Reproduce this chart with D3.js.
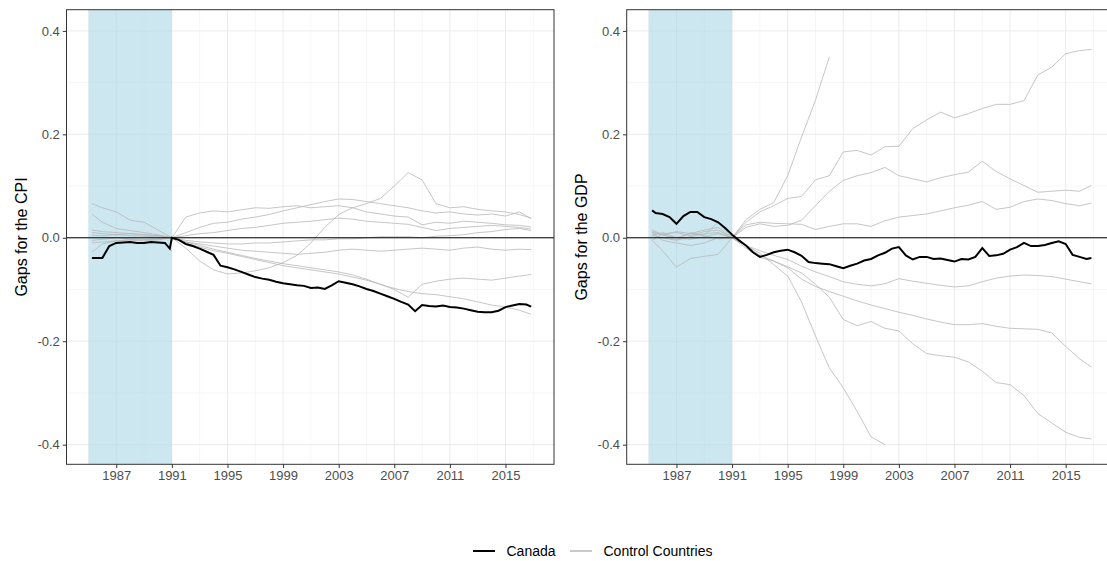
<!DOCTYPE html>
<html>
<head>
<meta charset="utf-8">
<script src="https://cdnjs.cloudflare.com/ajax/libs/d3/7.8.5/d3.min.js"></script>
<style>
    body { margin: 0; background: #fff; font-family: "Liberation Sans", Arial, sans-serif; }
    .axis text { fill: #4d4d4d; font-size: 13px; font-family: "Liberation Sans", Arial, sans-serif; }
    .axis line { stroke: #333; }
    .axis path { display: none; }
    .grid-major { stroke: #ebebeb; stroke-width: 1; }
    .grid-minor { stroke: #f4f4f4; stroke-width: 0.8; }
    .control { fill: none; stroke: #b8b8b8; stroke-width: 0.8; }
    .canada { fill: none; stroke: #000; stroke-width: 2; }
    .axis-title { font-size: 16px; fill: #000; }
    .legend text { font-size: 14px; fill: #000; }
</style>
</head>
<body>
<div id="chart"></div>
<script>

// time grid for the control countries (1985 Q2 .. late 2016)
var years = [1985.25, 1986, 1987, 1988, 1989, 1990, 1991,
    1992, 1993, 1994, 1995, 1996, 1997, 1998, 1999, 2000, 2001,
    2002, 2003, 2004, 2005, 2006, 2007, 2008, 2009, 2010, 2011,
    2012, 2013, 2014, 2015, 2016, 2016.85];

// finer grid for Canada (half years)
var canadaYears = [1985.25, 1985.5, 1986, 1986.5, 1987, 1987.5, 1988, 1988.5, 1989, 1989.5, 1990, 1990.5, 1990.85,
    1991, 1991.5, 1992, 1992.5, 1993, 1993.5, 1994, 1994.5, 1995, 1995.5,
    1996, 1996.5, 1997, 1997.5, 1998, 1998.5, 1999, 1999.5, 2000, 2000.5,
    2001, 2001.5, 2002, 2002.5, 2003, 2003.5, 2004, 2004.5, 2005, 2005.5,
    2006, 2006.5, 2007, 2007.5, 2008, 2008.5, 2009, 2009.5, 2010, 2010.5,
    2011, 2011.5, 2012, 2012.5, 2013, 2013.5, 2014, 2014.5, 2015, 2015.5,
    2016, 2016.5, 2016.85];

var yearTicks = [1987, 1991, 1995, 1999, 2003, 2007, 2011, 2015];
var yearMinor = [1985, 1989, 1993, 1997, 2001, 2005, 2009, 2013, 2017];
var gapTicks = [-0.4, -0.2, 0, 0.2, 0.4];
var gapMinor = [-0.3, -0.1, 0.1, 0.3];
var treatment = [1985, 1991];
var legendLabels = ["Canada", "Control Countries"];

// CPI gaps
var canadaCPI = [-0.039, -0.039, -0.039, -0.016, -0.010, -0.009, -0.008, -0.010, -0.010, -0.008, -0.009, -0.010, -0.021,
    0.000, -0.004, -0.012, -0.016, -0.021, -0.027, -0.033, -0.054, -0.057, -0.061,
    -0.066, -0.071, -0.076, -0.079, -0.081, -0.085, -0.088, -0.090, -0.092, -0.093,
    -0.097, -0.096, -0.099, -0.092, -0.084, -0.087, -0.090, -0.094, -0.099, -0.103,
    -0.108, -0.113, -0.118, -0.124, -0.129, -0.142, -0.130, -0.132, -0.133, -0.131,
    -0.134, -0.135, -0.137, -0.140, -0.143, -0.144, -0.144, -0.141, -0.134, -0.131,
    -0.128, -0.129, -0.133];

var controlsCPI = [
    [0.066, 0.058, 0.050, 0.034, 0.030, 0.015, 0,
     0.040, 0.048, 0.052, 0.050, 0.054, 0.058, 0.057, 0.060, 0.062, 0.058,
     0.060, 0.062, 0.058, 0.050, 0.046, 0.042, 0.040, 0.025, 0.030, 0.028,
     0.032, 0.030, 0.028, 0.025, 0.024, 0.021],
    [0.046, 0.030, 0.018, 0.014, 0.010, 0.006, 0,
     0.010, 0.020, 0.028, 0.030, 0.036, 0.040, 0.045, 0.052, 0.058, 0.064,
     0.070, 0.075, 0.074, 0.070, 0.066, 0.062, 0.058, 0.052, 0.048, 0.050,
     0.046, 0.044, 0.046, 0.042, 0.050, 0.037],
    [0.010, 0.008, 0.006, 0.004, 0.003, 0.002, 0,
     -0.020, -0.045, -0.062, -0.070, -0.068, -0.064, -0.058, -0.048, -0.034, -0.010,
     0.020, 0.045, 0.058, 0.066, 0.076, 0.100, 0.126, 0.112, 0.066, 0.058,
     0.060, 0.055, 0.052, 0.050, 0.045, 0.038],
    [0.005, 0.004, 0.006, 0.008, 0.006, 0.004, 0,
     0.004, 0.008, 0.010, 0.014, 0.018, 0.020, 0.024, 0.028, 0.030, 0.032,
     0.035, 0.038, 0.036, 0.032, 0.030, 0.028, 0.026, 0.020, 0.014, 0.018,
     0.020, 0.022, 0.024, 0.022, 0.020, 0.017],
    [-0.005, -0.003, 0.000, -0.002, -0.003, -0.002, 0,
     -0.005, -0.008, -0.010, -0.012, -0.012, -0.010, -0.010, -0.008, -0.006, -0.004,
     -0.004, -0.002, -0.002, 0.000, 0.002, 0.002, 0.002, 0.000, 0.003, 0.004,
     0.006, 0.010, 0.012, 0.016, 0.018, 0.014],
    [-0.028, -0.012, -0.006, -0.004, -0.006, -0.004, 0,
     -0.008, -0.012, -0.016, -0.020, -0.024, -0.026, -0.028, -0.030, -0.032, -0.030,
     -0.028, -0.024, -0.022, -0.024, -0.026, -0.024, -0.022, -0.020, -0.022, -0.024,
     -0.020, -0.018, -0.022, -0.024, -0.022, -0.023],
    [0.015, 0.012, 0.010, 0.008, 0.006, 0.004, 0,
     -0.010, -0.018, -0.025, -0.030, -0.036, -0.042, -0.048, -0.054, -0.058, -0.062,
     -0.066, -0.070, -0.076, -0.082, -0.090, -0.098, -0.104, -0.108, -0.110, -0.114,
     -0.118, -0.124, -0.130, -0.134, -0.140, -0.148],
    [-0.010, -0.008, -0.006, -0.004, -0.004, -0.002, 0,
     -0.008, -0.015, -0.022, -0.028, -0.034, -0.040, -0.045, -0.050, -0.054, -0.058,
     -0.062, -0.066, -0.072, -0.080, -0.090, -0.100, -0.115, -0.090, -0.084, -0.080,
     -0.078, -0.080, -0.082, -0.078, -0.074, -0.071]
];

// GDP gaps
var canadaGDP = [0.053, 0.048, 0.046, 0.040, 0.027, 0.042, 0.050, 0.050, 0.040, 0.036, 0.030, 0.019, 0.010,
    0.006, -0.005, -0.015, -0.028, -0.037, -0.033, -0.028, -0.025, -0.023, -0.028,
    -0.035, -0.047, -0.049, -0.050, -0.051, -0.055, -0.059, -0.054, -0.050, -0.044,
    -0.041, -0.034, -0.029, -0.021, -0.018, -0.034, -0.042, -0.037, -0.037, -0.041,
    -0.040, -0.043, -0.046, -0.041, -0.042, -0.037, -0.020, -0.035, -0.034, -0.031,
    -0.023, -0.018, -0.010, -0.016, -0.016, -0.014, -0.010, -0.007, -0.012, -0.033,
    -0.037, -0.041, -0.039];

var controlsGDP = [
    [0.010, 0.005, 0.012, 0.008, 0.015, 0.020, 0,
     0.035, 0.055, 0.068, 0.120, 0.195, 0.266, 0.350, null, null, null,
     null, null, null, null, null, null, null, null, null, null,
     null, null, null, null, null, null],
    [0.005, 0.000, -0.005, 0.002, 0.008, 0.010, 0,
     0.030, 0.050, 0.062, 0.076, 0.080, 0.112, 0.120, 0.166, 0.169, 0.160,
     0.176, 0.177, 0.211, 0.228, 0.243, 0.232, 0.240, 0.250, 0.258, 0.258,
     0.265, 0.315, 0.330, 0.356, 0.362, 0.364],
    [-0.005, 0.008, 0.010, 0.004, 0.012, 0.015, 0,
     0.020, 0.027, 0.022, 0.024, 0.034, 0.062, 0.090, 0.111, 0.120, 0.126,
     0.136, 0.120, 0.114, 0.108, 0.116, 0.122, 0.127, 0.148, 0.128, 0.114,
     0.101, 0.088, 0.090, 0.092, 0.090, 0.101],
    [0.012, 0.006, -0.004, 0.010, 0.005, 0.030, 0,
     0.025, 0.030, 0.028, 0.027, 0.026, 0.016, 0.022, 0.027, 0.027, 0.022,
     0.033, 0.040, 0.043, 0.046, 0.052, 0.058, 0.063, 0.070, 0.055, 0.059,
     0.070, 0.075, 0.072, 0.066, 0.062, 0.067],
    [0.015, 0.006, 0.000, -0.003, 0.002, 0.008, 0,
     -0.015, -0.025, -0.034, -0.042, -0.055, -0.066, -0.075, -0.085, -0.090, -0.093,
     -0.089, -0.079, -0.084, -0.088, -0.092, -0.095, -0.093, -0.085, -0.078, -0.074,
     -0.072, -0.073, -0.075, -0.080, -0.085, -0.089],
    [0.010, -0.005, -0.010, -0.015, -0.010, 0.000, 0,
     -0.015, -0.034, -0.045, -0.058, -0.080, -0.094, -0.104, -0.113, -0.122, -0.130,
     -0.137, -0.144, -0.150, -0.157, -0.163, -0.168, -0.168, -0.166, -0.171, -0.175,
     -0.176, -0.177, -0.184, -0.210, -0.234, -0.250],
    [-0.005, -0.025, -0.057, -0.040, -0.036, -0.032, 0,
     -0.020, -0.038, -0.045, -0.056, -0.068, -0.090, -0.115, -0.158, -0.170, -0.162,
     -0.175, -0.180, -0.205, -0.224, -0.228, -0.231, -0.240, -0.258, -0.280, -0.284,
     -0.305, -0.340, -0.358, -0.376, -0.386, -0.389],
    [0.005, 0.010, 0.000, 0.008, 0.004, -0.002, 0,
     -0.015, -0.030, -0.052, -0.074, -0.124, -0.190, -0.252, -0.290, -0.336, -0.385,
     -0.400, null, null, null, null, null, null, null, null, null,
     null, null, null, null, null, null]
];


var svg = d3.select("#chart").append("svg")
    .attr("width", 1107)
    .attr("height", 561);


/*
 * GapPanel - one facet: shaded pre-period, gray controls, black Canada
 */
GapPanel = function(_svg, _id, _left, _canada, _controls, _title){
    this.root = _svg;
    this.id = _id;
    this.left = _left;
    this.canada = _canada;
    this.controls = _controls;
    this.title = _title;

    this.initVis();
}

GapPanel.prototype.initVis = function(){
    var vis = this;

    vis.margin = { top: 9.7, left: vis.left };
    vis.width = 487.5;
    vis.height = 454.6;

    vis.svg = vis.root.append("g")
        .attr("transform", "translate(" + vis.margin.left + "," + vis.margin.top + ")");

    vis.svg.append("defs").append("clipPath")
        .attr("id", "clip-" + vis.id)
        .append("rect")
        .attr("width", vis.width)
        .attr("height", vis.height);

    // Scales and axes
    vis.x = d3.scaleLinear()
        .domain([1983.42, 2018.49])
        .range([0, vis.width]);

    vis.y = d3.scaleLinear()
        .domain([-0.438, 0.441])
        .range([vis.height, 0]);

    // grid, minor first
    vis.svg.selectAll(".vminor").data(yearMinor).enter().append("line")
        .attr("class", "grid-minor")
        .attr("x1", function(d) { return vis.x(d); })
        .attr("x2", function(d) { return vis.x(d); })
        .attr("y1", 0).attr("y2", vis.height);
    vis.svg.selectAll(".hminor").data(gapMinor).enter().append("line")
        .attr("class", "grid-minor")
        .attr("x1", 0).attr("x2", vis.width)
        .attr("y1", function(d) { return vis.y(d); })
        .attr("y2", function(d) { return vis.y(d); });
    vis.svg.selectAll(".vmajor").data(yearTicks).enter().append("line")
        .attr("class", "grid-major")
        .attr("x1", function(d) { return vis.x(d); })
        .attr("x2", function(d) { return vis.x(d); })
        .attr("y1", 0).attr("y2", vis.height);
    vis.svg.selectAll(".hmajor").data(gapTicks).enter().append("line")
        .attr("class", "grid-major")
        .attr("x1", 0).attr("x2", vis.width)
        .attr("y1", function(d) { return vis.y(d); })
        .attr("y2", function(d) { return vis.y(d); });

    vis.line = d3.line()
        .defined(function(d) { return d[1] !== null; })
        .x(function(d) { return vis.x(d[0]); })
        .y(function(d) { return vis.y(d[1]); });

    var plot = vis.svg.append("g")
        .attr("clip-path", "url(#clip-" + vis.id + ")");

    // pre-treatment shading (semi transparent, grid shows through)
    plot.append("rect")
        .attr("x", vis.x(treatment[0]))
        .attr("width", vis.x(treatment[1]) - vis.x(treatment[0]))
        .attr("y", 0)
        .attr("height", vis.height)
        .style("fill", "#add8e6")
        .style("opacity", 0.62);

    plot.selectAll(".control")
        .data(vis.controls)
        .enter().append("path")
        .attr("class", "control")
        .attr("d", function(d) {
            return vis.line(years.map(function(yr, i) { return [yr, d[i]]; }));
        });

    plot.append("path")
        .attr("class", "canada")
        .attr("d", vis.line(canadaYears.map(function(yr, i) { return [yr, vis.canada[i]]; })));

    plot.append("line")
        .attr("x1", 0).attr("x2", vis.width)
        .attr("y1", vis.y(0)).attr("y2", vis.y(0))
        .style("stroke", "#000")
        .style("stroke-width", 1);

    vis.svg.append("rect")
        .attr("width", vis.width)
        .attr("height", vis.height)
        .style("fill", "none")
        .style("stroke", "#333")
        .style("stroke-width", 1);

    vis.xAxis = d3.axisBottom(vis.x)
        .tickValues(yearTicks)
        .tickFormat(d3.format("d"))
        .tickSize(3.7)
        .tickPadding(3);

    // R style labels: plain hyphen for negatives
    vis.yAxis = d3.axisLeft(vis.y)
        .tickValues(gapTicks)
        .tickFormat(function(d) { return d.toFixed(1); })
        .tickSize(3.7)
        .tickPadding(3);

    vis.svg.append("g")
        .attr("class", "x-axis axis")
        .attr("transform", "translate(0," + vis.height + ")")
        .call(vis.xAxis);

    vis.svg.append("g")
        .attr("class", "y-axis axis")
        .call(vis.yAxis);

    // y title
    vis.svg.append("text")
        .attr("class", "axis-title")
        .attr("transform", "translate(-40," + (vis.height / 2) + ") rotate(-90)")
        .attr("text-anchor", "middle")
        .text(vis.title);
}

var cpiPanel = new GapPanel(svg, "cpi", 66.5, canadaCPI, controlsCPI, "Gaps for the CPI");
var gdpPanel = new GapPanel(svg, "gdp", 626.7, canadaGDP, controlsGDP, "Gaps for the GDP");


// legend
var legend = svg.append("g")
    .attr("class", "legend")
    .attr("transform", "translate(473,551)");

var keyStyles = [{ color: "#000", width: 2, x: 0 }, { color: "#b8b8b8", width: 1.5, x: 97 }];

legend.selectAll(".key")
    .data(legendLabels)
    .enter().append("line")
    .attr("x1", function(d, i) { return keyStyles[i].x; })
    .attr("x2", function(d, i) { return keyStyles[i].x + 22; })
    .attr("y1", 0).attr("y2", 0)
    .style("stroke", function(d, i) { return keyStyles[i].color; })
    .style("stroke-width", function(d, i) { return keyStyles[i].width; });

legend.selectAll(".label")
    .data(legendLabels)
    .enter().append("text")
    .attr("x", function(d, i) { return keyStyles[i].x + 33.5; })
    .attr("y", 0)
    .attr("dy", "0.35em")
    .text(function(d) { return d; });

</script>
</body>
</html>
